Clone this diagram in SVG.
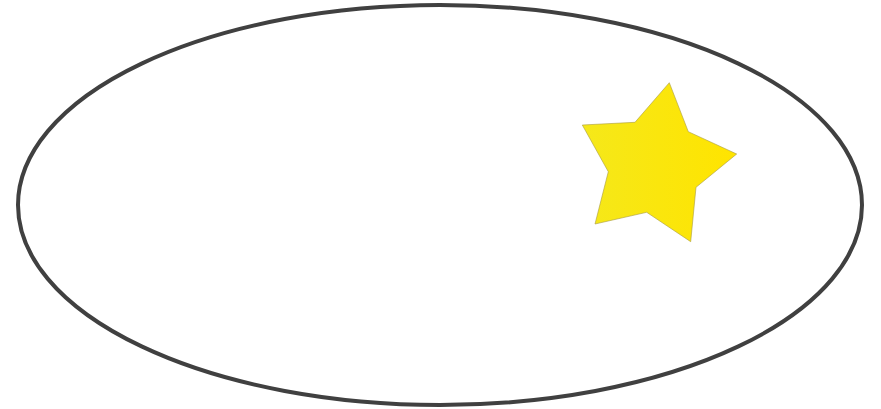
<svg xmlns="http://www.w3.org/2000/svg" width="881" height="409" viewBox="0 0 881 409">
<defs>
<linearGradient id="g" x1="0" y1="0" x2="1" y2="0">
<stop offset="0" stop-color="#f5e81a"/>
<stop offset="1" stop-color="#ffe400"/>
</linearGradient>
</defs>
<style>
.ell{fill:#ffffff;stroke:#404040;stroke-width:4}
.star{fill:url(#g);stroke:#a89a40;stroke-width:0.6}
</style>
<g id="ellipse"><ellipse class="ell" cx="440" cy="205" rx="422" ry="200"/></g>
<g id="star"><polygon class="star" points="669.3,82.7 688.3,131.7 736.7,154 696,187.3 690.7,241.7 646.7,212.3 595,224 608.3,171.7 582.3,125 635,122.3"/></g>
<g id="connectors"></g>
</svg>
